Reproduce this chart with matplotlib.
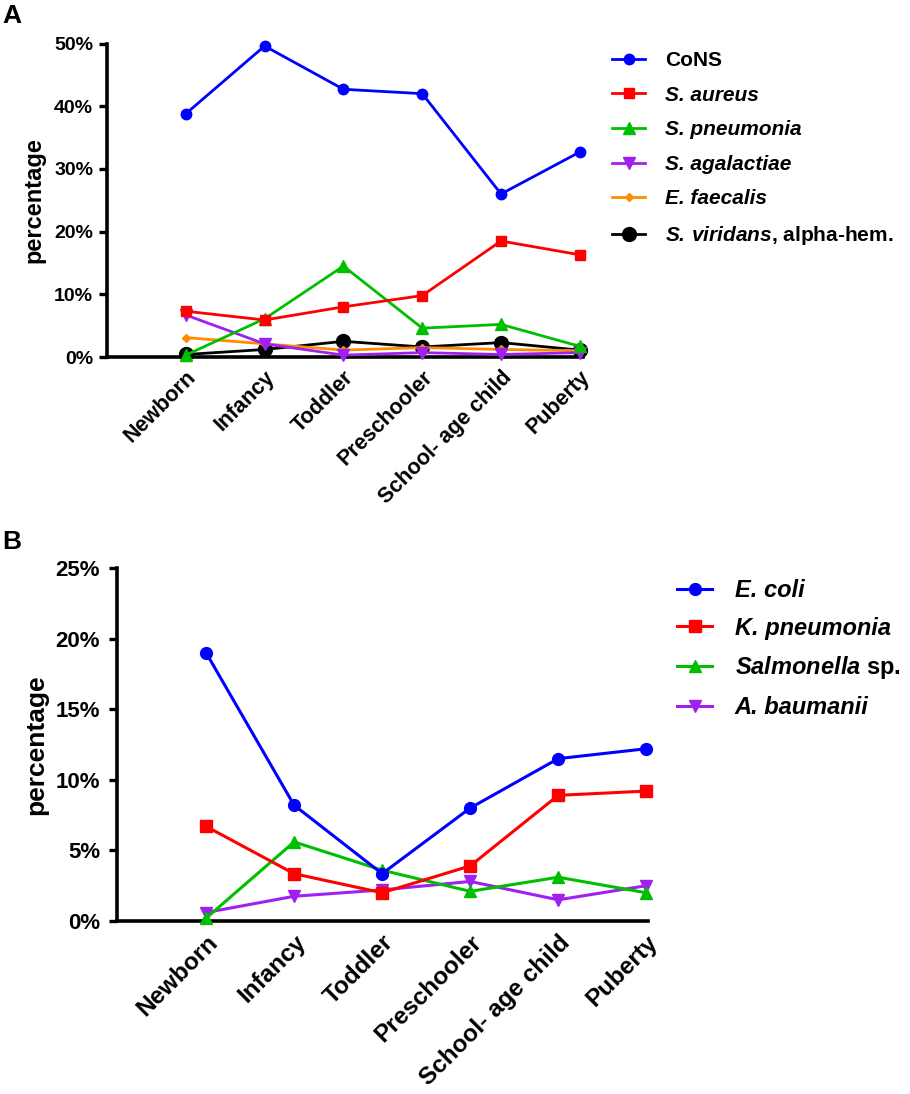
import matplotlib
matplotlib.use("Agg")
import matplotlib.pyplot as plt

plt.rcParams['font.family'] = ['Liberation Sans', 'DejaVu Sans']
plt.rcParams['mathtext.fontset'] = 'custom'
plt.rcParams['mathtext.bfit'] = 'Liberation Sans:bold:italic'
plt.rcParams['mathtext.bf'] = 'Liberation Sans:bold'
plt.rcParams['mathtext.it'] = 'Liberation Sans:italic'
plt.rcParams['mathtext.rm'] = 'Liberation Sans:bold'

categories = ['Newborn', 'Infancy', 'Toddler', 'Preschooler', 'School- age child', 'Puberty']

# Panel A (Gram-positive), percentage
a_labels = ['CoNS', 'S. aureus', 'S. pneumonia', 'S. agalactiae', 'E. faecalis',
            r'$\mathbfit{S.\,viridans}$, alpha-hem.']
a_italic = [False, True, True, True, True, False]
cons = [38.8, 49.6, 42.7, 42.0, 26.0, 32.7]
s_aureus = [7.3, 5.9, 8.0, 9.8, 18.5, 16.3]
s_pneumonia = [0.3, 6.1, 14.5, 4.6, 5.2, 1.7]
s_agalactiae = [6.7, 2.1, 0.3, 0.7, 0.4, 0.7]
e_faecalis = [3.1, 2.1, 1.1, 1.5, 1.2, 1.0]
s_viridans = [0.4, 1.2, 2.5, 1.6, 2.3, 1.1]
a_ticks = [0, 10, 20, 30, 40, 50]
a_ticklabels = ['0%', '10%', '20%', '30%', '40%', '50%']

# Panel B (Gram-negative), percentage
b_labels = ['E. coli', 'K. pneumonia', r'$\mathbfit{Salmonella}$ sp.', 'A. baumanii']
b_italic = [True, True, False, True]
e_coli = [19.0, 8.2, 3.35, 8.0, 11.5, 12.2]
k_pneumonia = [6.7, 3.35, 2.0, 3.9, 8.9, 9.2]
salmonella = [0.2, 5.6, 3.6, 2.1, 3.1, 2.0]
a_baumanii = [0.6, 1.75, 2.2, 2.8, 1.5, 2.5]
b_ticks = [0, 5, 10, 15, 20, 25]
b_ticklabels = ['0%', '5%', '10%', '15%', '20%', '25%']

blue = '#0000FF'
red = '#FF0000'
green = '#00BF00'
purple = '#A020F0'
orange = '#FF8C00'
black = '#000000'

W, H = 910, 1094
fig = plt.figure(figsize=(W / 100, H / 100), dpi=100)

def px_axes(l, r, t, b):
    return fig.add_axes([l / W, 1 - b / H, (r - l) / W, (b - t) / H])

def style(ax, ticks, ticklabels, ymax, xlim, tick_fs, xfs, ylab_fs, ylab_x, ypad):
    x = list(range(len(categories)))
    ax.set_xlim(*xlim)
    ax.set_ylim(0, ymax)
    ax.set_xticks(x)
    ax.set_xticklabels(categories, rotation=45, ha='right', rotation_mode='anchor',
                       fontsize=xfs, fontweight='bold')
    ax.set_yticks(ticks)
    ax.set_yticklabels(ticklabels, fontsize=tick_fs, fontweight='bold')
    ax.tick_params(axis='x', length=0, pad=7)
    ax.tick_params(axis='y', length=6, width=2.4, direction='out', pad=ypad)
    for s in ['top', 'right']:
        ax.spines[s].set_visible(False)
    for s in ['left', 'bottom']:
        ax.spines[s].set_linewidth(2.6)
    ax.set_ylabel('percentage', fontsize=ylab_fs, fontweight='bold')
    ax.yaxis.set_label_coords(ylab_x, 0.5)

x = list(range(len(categories)))

# ---------- Panel A ----------
axA = px_axes(107, 583, 43.5, 357)
seriesA = [
    (cons, blue, 'o', 7.5),
    (s_aureus, red, 's', 7.5),
    (s_pneumonia, green, '^', 8),
    (s_agalactiae, purple, 'v', 8),
    (e_faecalis, orange, 'D', 4.5),
    (s_viridans, black, 'o', 10),
]
handlesA = []
for i, (vals, c, m, ms) in enumerate(seriesA):
    h, = axA.plot(x, vals, color=c, marker=m, markersize=ms, linewidth=2,
                  clip_on=False, zorder=10 - i, label=a_labels[i])
    handlesA.append(h)
style(axA, a_ticks, a_ticklabels, 50, (-1.0, 5.04), 14, 15.5, 17, -0.13, 4)
legA = fig.legend(handles=handlesA, loc='upper left', bbox_to_anchor=(612 / W, 1 - 51 / H),
                  frameon=False, handlelength=1.6, handletextpad=0.95,
                  labelspacing=0.75, borderpad=0, borderaxespad=0,
                  prop={'weight': 'bold', 'size': 15})
for t, it in zip(legA.get_texts(), a_italic):
    if it:
        t.set_fontstyle('italic')

# ---------- Panel B ----------
axB = px_axes(116.7, 648, 568, 921)
seriesB = [
    (e_coli, blue, 'o', 8.5),
    (k_pneumonia, red, 's', 8.5),
    (salmonella, green, '^', 9),
    (a_baumanii, purple, 'v', 9),
]
handlesB = []
for i, (vals, c, m, ms) in enumerate(seriesB):
    h, = axB.plot(x, vals, color=c, marker=m, markersize=ms, linewidth=2.2,
                  clip_on=False, zorder=10 - i, label=b_labels[i])
    handlesB.append(h)
style(axB, b_ticks, b_ticklabels, 25, (-1.015, 5.02), 16, 17.5, 19, -0.129, 6)
legB = fig.legend(handles=handlesB, loc='upper left', bbox_to_anchor=(677 / W, 1 - 579 / H),
                  frameon=False, handlelength=1.5, handletextpad=0.95,
                  labelspacing=0.62, borderpad=0, borderaxespad=0,
                  prop={'weight': 'bold', 'size': 17})
for t, it in zip(legB.get_texts(), b_italic):
    if it:
        t.set_fontstyle('italic')

fig.text(2 / W, 1 - 4 / H, 'A', fontsize=19, fontweight='bold', va='top', ha='left')
fig.text(2 / W, 1 - 530 / H, 'B', fontsize=19, fontweight='bold', va='top', ha='left')

fig.savefig('out.png', dpi=100)
